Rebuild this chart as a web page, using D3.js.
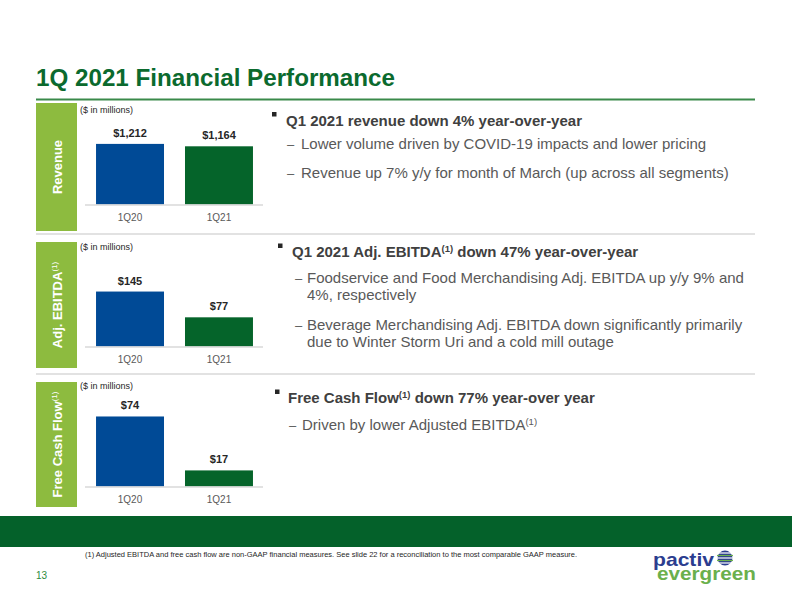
<!DOCTYPE html>
<html><head><meta charset="utf-8">
<script src="https://cdn.jsdelivr.net/npm/d3@7"></script>
<style>
html,body{margin:0;padding:0;background:#fff;}
svg{display:block;font-family:"Liberation Sans",Arial,sans-serif;}
</style></head>
<body>
<svg id="c" width="792" height="612"></svg>
<script>
// ---- data ----
const categories = ["1Q20", "1Q21"];
const panelNames = ["Revenue", "Adj. EBITDA", "Free Cash Flow"];
const panelSup = ["", "(1)", "(1)"];
const revenueValues = [1212, 1164];
const ebitdaValues = [145, 77];
const fcfValues = [74, 17];
const valueLabels = [["$1,212", "$1,164"], ["$145", "$77"], ["$74", "$17"]];
const unitsNote = "($ in millions)";
const titleText = "1Q 2021 Financial Performance";
const bullets = [
  {head: [["Q1 2021 revenue down 4% year-over-year", false]],
   subs: [["Lower volume driven by COVID-19 impacts and lower pricing"],
          ["Revenue up 7% y/y for month of March (up across all segments)"]]},
  {head: [["Q1 2021 Adj. EBITDA", false], ["(1)", true], [" down 47% year-over-year", false]],
   subs: [["Foodservice and Food Merchandising Adj. EBITDA up y/y 9% and", "4%, respectively"],
          ["Beverage Merchandising Adj. EBITDA down significantly primarily", "due to Winter Storm Uri and a cold mill outage"]]},
  {head: [["Free Cash Flow", false], ["(1)", true], [" down 77% year-over year", false]],
   subs: [["Driven by lower Adjusted EBITDA|(1)"]]}
];
const footnote = "(1) Adjusted EBITDA and free cash flow are non-GAAP financial measures. See slide 22 for a reconciliation to the most comparable GAAP measure.";
const pageNum = "13";

// ---- layout ----
const svg = d3.select("#c");
const C = {title:"#0b6a2e", rule:"#3a8a4a", side:"#8dbb3f", blue:"#004a96", green:"#05642a",
           band:"#04612a", grid:"#d9d9d9", body:"#595959", head:"#404040", val:"#262626"};

svg.append("text").attr("x",36).attr("y",86).attr("font-size",24.2).attr("font-weight","bold")
  .attr("fill",C.title).text(titleText);
svg.append("line").attr("x1",36).attr("x2",755).attr("y1",99.5).attr("y2",99.5)
  .attr("stroke",C.rule).attr("stroke-width",2);

const panels = [
  {vals: revenueValues, yMax: 2000, h: 100, base: 204.5, boxTop: 103, boxBot: 231, noteY: 113},
  {vals: ebitdaValues, yMax: 200, h: 75.8, base: 346.5, boxTop: 242, boxBot: 368, noteY: 250},
  {vals: fcfValues, yMax: 80, h: 75.7, base: 486.5, boxTop: 382, boxBot: 507, noteY: 389}
];
const x = d3.scaleBand().domain(categories).range([85, 264]).paddingInner(0.236).paddingOuter(0.124);
const barColors = [C.blue, C.green];

panels.forEach((p, i) => {
  const g = svg.append("g");
  g.append("rect").attr("x",36).attr("y",p.boxTop).attr("width",41).attr("height",p.boxBot-p.boxTop).attr("fill",C.side);
  const cy = (p.boxTop + p.boxBot)/2;
  const t = g.append("text").attr("transform",`translate(61.5,${cy}) rotate(-90)`)
    .attr("text-anchor","middle").attr("font-size",13).attr("font-weight","bold").attr("fill","#fff");
  t.append("tspan").text(panelNames[i]);
  if (panelSup[i]) t.append("tspan").attr("font-size",8).attr("dy",-5).attr("font-weight","normal").text(panelSup[i]);
  g.append("text").attr("x",80).attr("y",p.noteY).attr("font-size",9).attr("fill","#262626").text(unitsNote);
  const y = d3.scaleLinear().domain([0,p.yMax]).range([p.base, p.base - p.h]);
  g.selectAll("rect.bar").data(p.vals).join("rect").attr("class","bar")
    .attr("x",(d,j)=>x(categories[j])).attr("width",x.bandwidth())
    .attr("y",d=>y(d)).attr("height",d=>y(0)-y(d)).attr("fill",(d,j)=>barColors[j]);
  g.selectAll("text.val").data(p.vals).join("text").attr("class","val")
    .attr("x",(d,j)=>x(categories[j])+x.bandwidth()/2).attr("y",d=>y(d)-7)
    .attr("text-anchor","middle").attr("font-size",11).attr("font-weight","bold").attr("fill",C.val)
    .text((d,j)=>valueLabels[i][j]);
  const ax = g.append("g").attr("transform",`translate(0,${p.base})`).call(d3.axisBottom(x).tickSize(0).tickPadding(0));
  ax.select(".domain").attr("d","M85,0.5H263").attr("stroke",C.grid).attr("stroke-width",1.5);
  ax.selectAll("text").attr("dy",0).attr("y",16.5).attr("font-size",10).attr("fill",C.body)
    .attr("font-family","'Liberation Sans',Arial,sans-serif");
});

// separators
[234, 374].forEach(yy => svg.append("line").attr("x1",36).attr("x2",755).attr("y1",yy).attr("y2",yy)
  .attr("stroke",C.grid).attr("stroke-width",1.5));

// right-side text
const textLayout = [
  {bx:272, hx:286, hy:120.5, dx:287, sx:301, sy:[149,178], lh:17},
  {bx:278, hx:292, hy:252, dx:295, sx:307, sy:[283,330], lh:17},
  {bx:275, hx:288, hy:398, dx:289, sx:302, sy:[430], lh:17}
];
bullets.forEach((b, i) => {
  const L = textLayout[i];
  svg.append("rect").attr("x",L.bx).attr("y",L.hy-8.5).attr("width",4.5).attr("height",4.5).attr("fill","#262626");
  const h = svg.append("text").attr("x",L.hx).attr("y",L.hy).attr("font-size",15).attr("font-weight","bold").attr("fill",C.head);
  b.head.forEach(([s, sup]) => {
    if (sup) h.append("tspan").attr("font-size",9.5).attr("dy",-5).text(s);
    else h.append("tspan").attr("dy", h.selectAll("tspan").size() ? 5 : 0).text(s);
  });
  b.subs.forEach((lines, k) => {
    const y0 = L.sy[k];
    svg.append("text").attr("x",L.dx).attr("y",y0).attr("font-size",13).attr("fill",C.body).text("\u2013");
    lines.forEach((ln, m) => {
      const t = svg.append("text").attr("x",L.sx).attr("y",y0 + m*L.lh).attr("font-size",15).attr("fill",C.body);
      const parts = ln.split("|");
      t.append("tspan").text(parts[0]);
      if (parts[1]) t.append("tspan").attr("font-size",9.5).attr("dy",-5).text(parts[1]);
    });
  });
});

// footer band
svg.append("rect").attr("x",0).attr("y",516).attr("width",792).attr("height",31).attr("fill",C.band);
svg.append("text").attr("x",85).attr("y",557).attr("font-size",7.5).attr("fill","#262626").text(footnote);
svg.append("text").attr("x",36).attr("y",579).attr("font-size",10).attr("fill","#2e8b3e").text(pageNum);

// logo
svg.append("text").attr("x",653).attr("y",566).attr("font-size",19).attr("font-weight","bold")
  .attr("fill","#2b3d8f").attr("textLength",61).attr("lengthAdjust","spacingAndGlyphs").text("pactiv");
svg.append("text").attr("x",657).attr("y",580).attr("font-size",19).attr("font-weight","bold")
  .attr("fill","#6ab04c").attr("textLength",99).attr("lengthAdjust","spacingAndGlyphs").text("evergreen");
const gl = svg.append("g").attr("transform","translate(725,558)");
gl.append("circle").attr("r",7.5).attr("fill","#2b3d8f");
[-5,-2.5,0,2.5,5].forEach((dy,k)=> gl.append("rect").attr("x",-8).attr("y",dy-0.6).attr("width",16).attr("height",1.2)
  .attr("fill", k%2 ? "#6ab04c" : "#fff"));
</script>
</body></html>
